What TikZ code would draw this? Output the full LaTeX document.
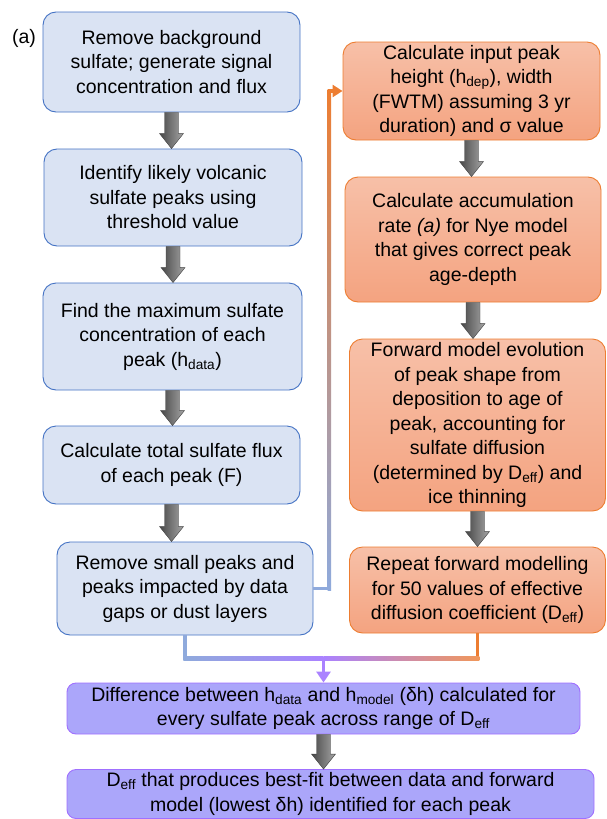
\documentclass[tikz,border=0pt]{standalone}
\usepackage{fontspec}
\setmainfont{Liberation Sans}
\usetikzlibrary{arrows.meta}
\usetikzlibrary{calc}

\definecolor{boxblue}{RGB}{218,227,243}
\definecolor{edgeblue}{RGB}{68,114,196}
\definecolor{lineblue}{RGB}{143,170,220}
\definecolor{orangetop}{RGB}{247,192,168}
\definecolor{orangebot}{RGB}{244,163,128}
\definecolor{edgeorange}{RGB}{237,125,49}
\definecolor{boxpurple}{RGB}{171,166,250}
\definecolor{edgepurple}{RGB}{160,112,255}
\definecolor{linepurple}{RGB}{170,130,255}
\definecolor{fadegray}{RGB}{232,230,232}

\newcommand{\fatarrow}[2]{%
  \path[draw=black!75, left color=black!72, right color=black!35]
    let \p1=(#1.south), \p2=(#2.north) in
    (\x1-7pt,\y1) -- (\x1+7pt,\y1) -- (\x1+7pt,\y2+15pt) -- (\x1+12pt,\y2+15pt)
    -- (\x1,\y2) -- (\x1-12pt,\y2+15pt) -- (\x1-7pt,\y2+15pt) -- cycle;}

\begin{document}
\begin{tikzpicture}[x=1pt,y=-1pt,
  every node/.style={font=\fontsize{19.5}{24.5}\selectfont, align=center, inner sep=0pt},
  stepblue/.style={draw=edgeblue, line width=0.9pt, fill=boxblue, rounded corners=13pt, minimum width=257pt},
  steporange/.style={draw=edgeorange, line width=0.9pt, top color=orangetop, bottom color=orangebot, rounded corners=13pt, minimum width=256pt},
  steppurple/.style={draw=edgepurple, line width=0.9pt, fill=boxpurple, rounded corners=9pt}]
 \useasboundingbox (0,0) rectangle (606,819);

 \node (tag) at (24,38) {(a)};

 \node[stepblue, minimum height=100pt] (l1) at (171.5,62) {Remove background\\sulfate; generate signal\\concentration and flux};
 \node[stepblue, minimum width=258pt, minimum height=97pt] (l2) at (173,197.5) {Identify likely volcanic\\sulfate peaks using\\threshold value};
 \node[stepblue, minimum width=259pt, minimum height=107pt] (l3) at (172.5,336.5) {Find the maximum sulfate\\concentration of each\\peak (h\textsubscript{data})};
 \node[stepblue, minimum height=78pt] (l4) at (171.5,465) {Calculate total sulfate flux\\of each peak (F)};
 \node[stepblue, minimum width=256pt, minimum height=93pt] (l5) at (185,588.5) {Remove small peaks and\\peaks impacted by data\\gaps or dust layers};

 \node[steporange, minimum width=257pt, minimum height=98pt] (r1) at (471.5,91) {Calculate input peak\\height (h\textsubscript{dep}), width\\(FWTM) assuming 3 yr\\duration) and σ value};
 \node[steporange, minimum height=125pt] (r2) at (473,239.5) {Calculate accumulation\\rate \textit{(a)} for Nye model\\that gives correct peak\\age-depth};
 \node[steporange, minimum height=172pt] (r3) at (477.5,425) {Forward model evolution\\of peak shape from\\deposition to age of\\peak, accounting for\\sulfate diffusion\\(determined by D\textsubscript{eff}) and\\ice thinning};
 \node[steporange, minimum height=86pt] (r4) at (477.5,590) {Repeat forward modelling\\for 50 values of effective\\diffusion coefficient (D\textsubscript{eff})};

 \node[steppurple, minimum width=513pt, minimum height=51pt] (p1) at (323.5,708.5) {Difference between h\textsubscript{data} and h\textsubscript{model} (δh) calculated for\\every sulfate peak across range of D\textsubscript{eff}};
 \node[steppurple, minimum width=527pt, minimum height=49pt] (p2) at (330.5,794) {D\textsubscript{eff} that produces best-fit between data and forward\\model (lowest δh) identified for each peak};

 \fatarrow{l1}{l2}
 \fatarrow{l2}{l3}
 \fatarrow{l3}{l4}
 \fatarrow{l4}{l5}
 \fatarrow{r1}{r2}
 \fatarrow{r2}{r3}
 \fatarrow{r3}{r4}
 \fatarrow{p1}{p2}

 \draw[lineblue, line width=3.5pt] (l5.east) -- ++(16,0) coordinate (up0);
 \coordinate (up1) at (up0 |- r1.west);
 \shade[top color=edgeorange, middle color=fadegray, bottom color=lineblue] ($(up1)+(-1.75pt,1.75pt)$) rectangle ($(up0)+(1.75pt,-1.75pt)$);
 \draw[edgeorange, line width=3.5pt, -{Triangle[width=12pt,length=10pt]}] (up1) -- (r1.west);

 \draw[lineblue, line width=3.5pt] (l5.south) -- ++(0,23) coordinate (m0);
 \draw[edgeorange, line width=3.5pt] (r4.south) -- (r4.south |- m0) coordinate (m2);
 \coordinate (m1) at (p1.north |- m0);
 \shade[left color=lineblue, middle color=fadegray, right color=linepurple] ($(m0)+(-1.75pt,1.75pt)$) rectangle ($(m1)+(0pt,-1.75pt)$);
 \shade[left color=linepurple, middle color=fadegray, right color=edgeorange!80!white] ($(m1)+(0pt,1.75pt)$) rectangle ($(m2)+(1.75pt,-1.75pt)$);
 \draw[linepurple, line width=3.5pt, -{Triangle[width=14pt,length=11pt]}] (m1) -- (p1.north);
\end{tikzpicture}
\end{document}
